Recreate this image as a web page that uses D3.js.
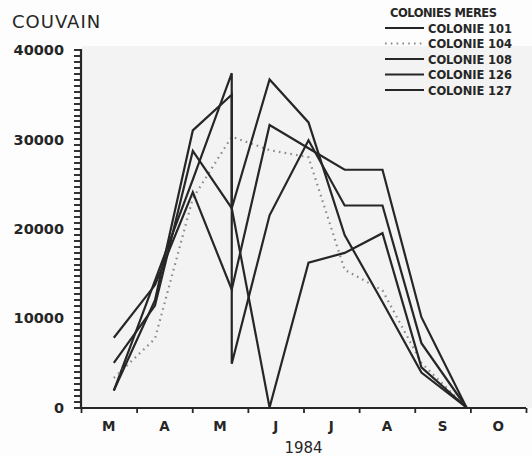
<!DOCTYPE html>
<html><head><meta charset="utf-8">
<script src="https://cdn.jsdelivr.net/npm/d3@7/dist/d3.min.js"></script>
<style>body{margin:0;background:#fff}svg{display:block}</style>
</head><body><svg id="c" width="532" height="457"></svg>
<script>
// ---- data ----
const months = ["M","A","M","J","J","A","S","O"];
// sampling dates, in months from 1 March 1984 (the split date appears twice: before / after)
const sampleDates = [0.59, 1.33, 2.01, 2.71, 2.71, 3.39, 4.09, 4.74, 5.42, 6.12, 6.93];
const yTickValues = [0, 10000, 20000, 30000, 40000];
const seriesNames = ["COLONIE 101", "COLONIE 104", "COLONIE 108", "COLONIE 126", "COLONIE 127"];
const colonie101 = [1900, 14200, 25500, 37400, 4900, 21500, 29900, 22600, 22600, 7200, 0];
const colonie104 = [3300, 7700, 23400, 30300, 30300, 28800, 28000, 15400, 13100, 5000, 0];
const colonie108 = [1900, 12000, 31000, 35000, 22300, 0, 16200, 17300, 19500, 4500, 0];
const colonie126 = [5000, 11400, 28700, 22300, 22300, 36700, 31900, 19300, 11800, 3900, 0];
const colonie127 = [7800, 13700, 24100, 13200, 13200, 31600, 29000, 26600, 26600, 10100, 0];
const seriesValues = [colonie101, colonie104, colonie108, colonie126, colonie127];
const dotted = [false, true, false, false, false];

// ---- chart ----
const svg = d3.select("#c");
const x = d3.scaleLinear().domain([0, 8]).range([81, 526]);
const y = d3.scaleLinear().domain([0, 40000]).range([407.5, 50]);

svg.append("rect").attr("x", 0).attr("y", 0).attr("width", 532).attr("height", 457).attr("fill", "#fdfdfd");
svg.append("rect").attr("x", 82).attr("y", 46).attr("width", 450).attr("height", 362).attr("fill", "#f3f3f3");

const ink = "#262626";

// y axis with minor ticks
const minor = d3.range(0, 61).map(i => i * 40000 / 60);
svg.append("g").selectAll("line").data(minor).join("line")
  .attr("x1", 74).attr("x2", 81).attr("y1", d => Math.round(y(d))).attr("y2", d => Math.round(y(d)))
  .attr("stroke", "#333").attr("stroke-width", 2);
svg.append("line").attr("x1", 81).attr("x2", 81).attr("y1", y(40000) - 1).attr("y2", 409)
  .attr("stroke", ink).attr("stroke-width", 2.2);

const yLab = svg.append("g").attr("transform", "translate(81,0)")
  .call(d3.axisLeft(y).tickValues(yTickValues).tickSize(0).tickPadding(17).tickFormat(d3.format("d")));
yLab.select(".domain").remove();
yLab.selectAll("text").attr("font-family", "DejaVu Sans").attr("font-weight", "bold")
  .attr("font-size", 14.5).attr("fill", ink);

// x axis
const xAxis = svg.append("g").attr("transform", "translate(0,408)")
  .call(d3.axisBottom(x).tickValues(d3.range(0, 9)).tickSize(5).tickFormat(""));
xAxis.select(".domain").attr("stroke", ink).attr("stroke-width", 2.2).attr("d", `M${x(0)},0H${x(8)}`);
xAxis.selectAll(".tick line").attr("stroke", ink).attr("stroke-width", 1.8);

svg.append("g").selectAll("text").data(months).join("text")
  .attr("x", (d, i) => x(i + 0.5)).attr("y", 431)
  .attr("text-anchor", "middle").attr("font-family", "DejaVu Sans").attr("font-weight", "bold")
  .attr("font-size", 13.5).attr("fill", ink).text(d => d);

svg.append("text").attr("x", x(4)).attr("y", 453).attr("text-anchor", "middle")
  .attr("font-family", "DejaVu Sans").attr("font-size", 15).attr("fill", ink).text("1984");

svg.append("text").attr("x", 12).attr("y", 28)
  .attr("font-family", "DejaVu Sans").attr("font-size", 18).attr("letter-spacing", 1)
  .attr("fill", ink).text("COUVAIN");

// lines
const line = d3.line().x((d, i) => x(sampleDates[i])).y(d => y(d));
seriesValues.forEach((vals, k) => {
  svg.append("path").datum(vals).attr("d", line).attr("fill", "none")
    .attr("stroke", dotted[k] ? "#8a8a8a" : ink)
    .attr("stroke-width", 2.2)
    .attr("stroke-linejoin", "miter")
    .attr("stroke-dasharray", dotted[k] ? "1.6,4.2" : null);
});

// legend
const lg = svg.append("g");
lg.append("text").attr("x", 390).attr("y", 17).attr("font-family", "DejaVu Sans").attr("font-weight", "bold")
  .attr("font-size", 11.5).attr("fill", ink).attr("textLength", 107).text("COLONIES MERES");
seriesNames.forEach((n, k) => {
  const yy = 28 + k * 15.5;
  lg.append("line").attr("x1", 385).attr("x2", 424).attr("y1", yy).attr("y2", yy)
    .attr("stroke", dotted[k] ? "#8a8a8a" : ink).attr("stroke-width", 2.2)
    .attr("stroke-dasharray", dotted[k] ? "1.6,4.2" : null);
  lg.append("text").attr("x", 428).attr("y", yy + 4.5).attr("font-family", "DejaVu Sans").attr("font-weight", "bold")
    .attr("font-size", 11.5).attr("fill", ink).attr("textLength", 84).text(n);
});
</script></body></html>
